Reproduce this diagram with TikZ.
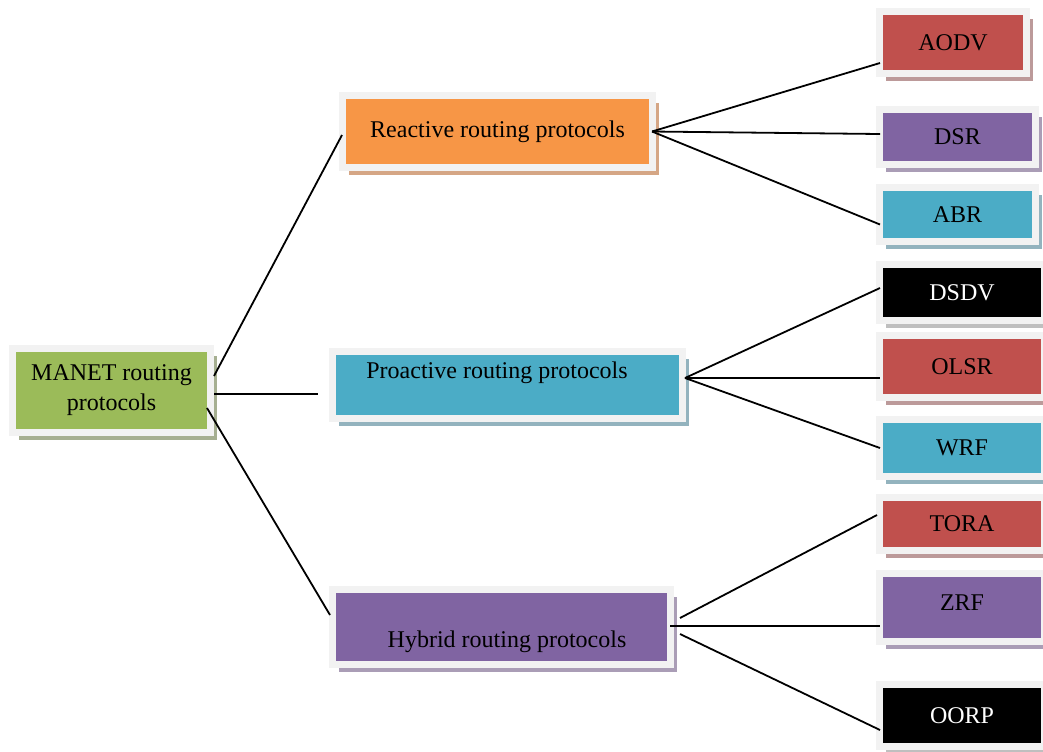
\documentclass[tikz,border=0pt]{standalone}
\usepackage{fontspec}
\setmainfont{Liberation Serif}
\usetikzlibrary{shadows}
\definecolor{frameg}{HTML}{F2F2F2}
\definecolor{cgreen}{HTML}{9BBB59}
\definecolor{cgreensh}{HTML}{A6AF91}
\definecolor{corange}{HTML}{F79646}
\definecolor{corangesh}{HTML}{D5A685}
\definecolor{cteal}{HTML}{4BACC6}
\definecolor{ctealsh}{HTML}{93B3BE}
\definecolor{cpurple}{HTML}{8064A2}
\definecolor{cpurplesh}{HTML}{AA9DB6}
\definecolor{cred}{HTML}{C0504D}
\definecolor{credsh}{HTML}{BC9A9A}
\definecolor{cblacksh}{HTML}{BFBFBF}
\tikzset{
  box/.style={rectangle, draw=frameg, line width=3.5pt, inner sep=0pt,
    font=\fontsize{12}{15}\selectfont, text=black, align=center},
  sh/.style={drop shadow={shadow xshift=3pt, shadow yshift=-3.75pt, fill=#1, opacity=1}},
  conn/.style={line width=0.9pt, draw=black},
  lbl/.style={font=\fontsize{12}{15}\selectfont, text=black}
}
\begin{document}
\begin{tikzpicture}[x=0.5pt, y=-0.5pt]
\useasboundingbox (0,0) rectangle (1043,751);
\clip (0,0) rectangle (1043,751);
\fill[white] (0,0) rectangle (1043,751);

% left / middle boxes
\node[box, fill=cgreen, sh=cgreensh, minimum width=99pt, minimum height=42pt]
  (manet) at (111.5,390.5) {MANET routing\\protocols};
\node[box, fill=corange, sh=corangesh, minimum width=155pt, minimum height=36pt]
  (reactive) at (497.5,131.5) {Reactive routing protocols};
\node[box, fill=cteal, sh=ctealsh, minimum width=175pt, minimum height=33.5pt,
  label={[lbl, xshift=-5.25pt, yshift=6pt]center:Proactive routing protocols}]
  (proactive) at (507.5,385) {};
\node[box, fill=cpurple, sh=cpurplesh, minimum width=169pt, minimum height=37.5pt,
  label={[lbl, xshift=2.75pt, yshift=-7.5pt]center:Hybrid routing protocols}]
  (hybrid) at (501.5,627) {};

% right boxes
\node[box, fill=cred, sh=credsh, minimum width=73.5pt, minimum height=31pt]
  (aodv) at (953,42.5) {AODV};
\node[box, fill=cpurple, sh=cpurplesh, minimum width=78pt, minimum height=27.5pt]
  (dsr) at (957.5,137) {DSR};
\node[box, fill=cteal, sh=ctealsh, minimum width=78pt, minimum height=27pt]
  (abr) at (957.5,214.5) {ABR};
\node[box, fill=black, sh=cblacksh, text=white, minimum width=82.5pt, minimum height=28pt]
  (dsdv) at (962,292.5) {DSDV};
\node[box, fill=cred, sh=credsh, minimum width=82.5pt, minimum height=31pt]
  (olsr) at (962,366.5) {OLSR};
\node[box, fill=cteal, sh=ctealsh, minimum width=82.5pt, minimum height=28.5pt]
  (wrf) at (962,448) {WRF};
\node[box, fill=cred, sh=credsh, minimum width=82.5pt, minimum height=26.5pt]
  (tora) at (962,524) {TORA};
\node[box, fill=cpurple, sh=cpurplesh, minimum width=82.5pt, minimum height=34pt,
  label={[lbl, yshift=2.5pt]center:ZRF}]
  (zrf) at (962,607.5) {};
\node[box, fill=black, sh=cblacksh, text=white, minimum width=82.5pt, minimum height=31pt]
  (oorp) at (962,715.5) {OORP};

% connectors from root
\draw[conn] ([yshift=7.25pt]manet.east) -- ([xshift=1.5pt,yshift=-1.75pt]reactive.west);
\draw[conn] ([yshift=-1.75pt]manet.east) -- ([xshift=-5.5pt,yshift=-4.5pt]proactive.west);
\draw[conn] ([xshift=-3.5pt,yshift=-8.75pt]manet.east) -- ([xshift=0.5pt,yshift=6pt]hybrid.west);

% reactive fan
\draw[conn] ([xshift=-2pt]reactive.east) -- ([xshift=2pt,yshift=-10.25pt]aodv.west);
\draw[conn] ([xshift=-2pt]reactive.east) -- ([xshift=2pt,yshift=1.5pt]dsr.west);
\draw[conn] ([xshift=-2pt]reactive.east) -- ([xshift=2pt,yshift=-5pt]abr.west);

% proactive fan
\draw[conn] ([xshift=-0.5pt,yshift=3.5pt]proactive.east) -- ([xshift=2pt,yshift=2.25pt]dsdv.west);
\draw[conn] ([xshift=-0.5pt,yshift=3.5pt]proactive.east) -- ([xshift=2pt,yshift=-5.75pt]olsr.west);
\draw[conn] ([xshift=-0.5pt,yshift=3.5pt]proactive.east) -- ([xshift=2pt]wrf.west);

% hybrid fan
\draw[conn] ([xshift=3pt,yshift=4.5pt]hybrid.east) -- ([xshift=0.5pt,yshift=4.5pt]tora.west);
\draw[conn] ([xshift=-2pt,yshift=0.5pt]hybrid.east) -- ([xshift=2pt,yshift=-9.25pt]zrf.west);
\draw[conn] ([xshift=3pt,yshift=-3.5pt]hybrid.east) -- ([xshift=2pt,yshift=-7.25pt]oorp.west);
\end{tikzpicture}
\end{document}
